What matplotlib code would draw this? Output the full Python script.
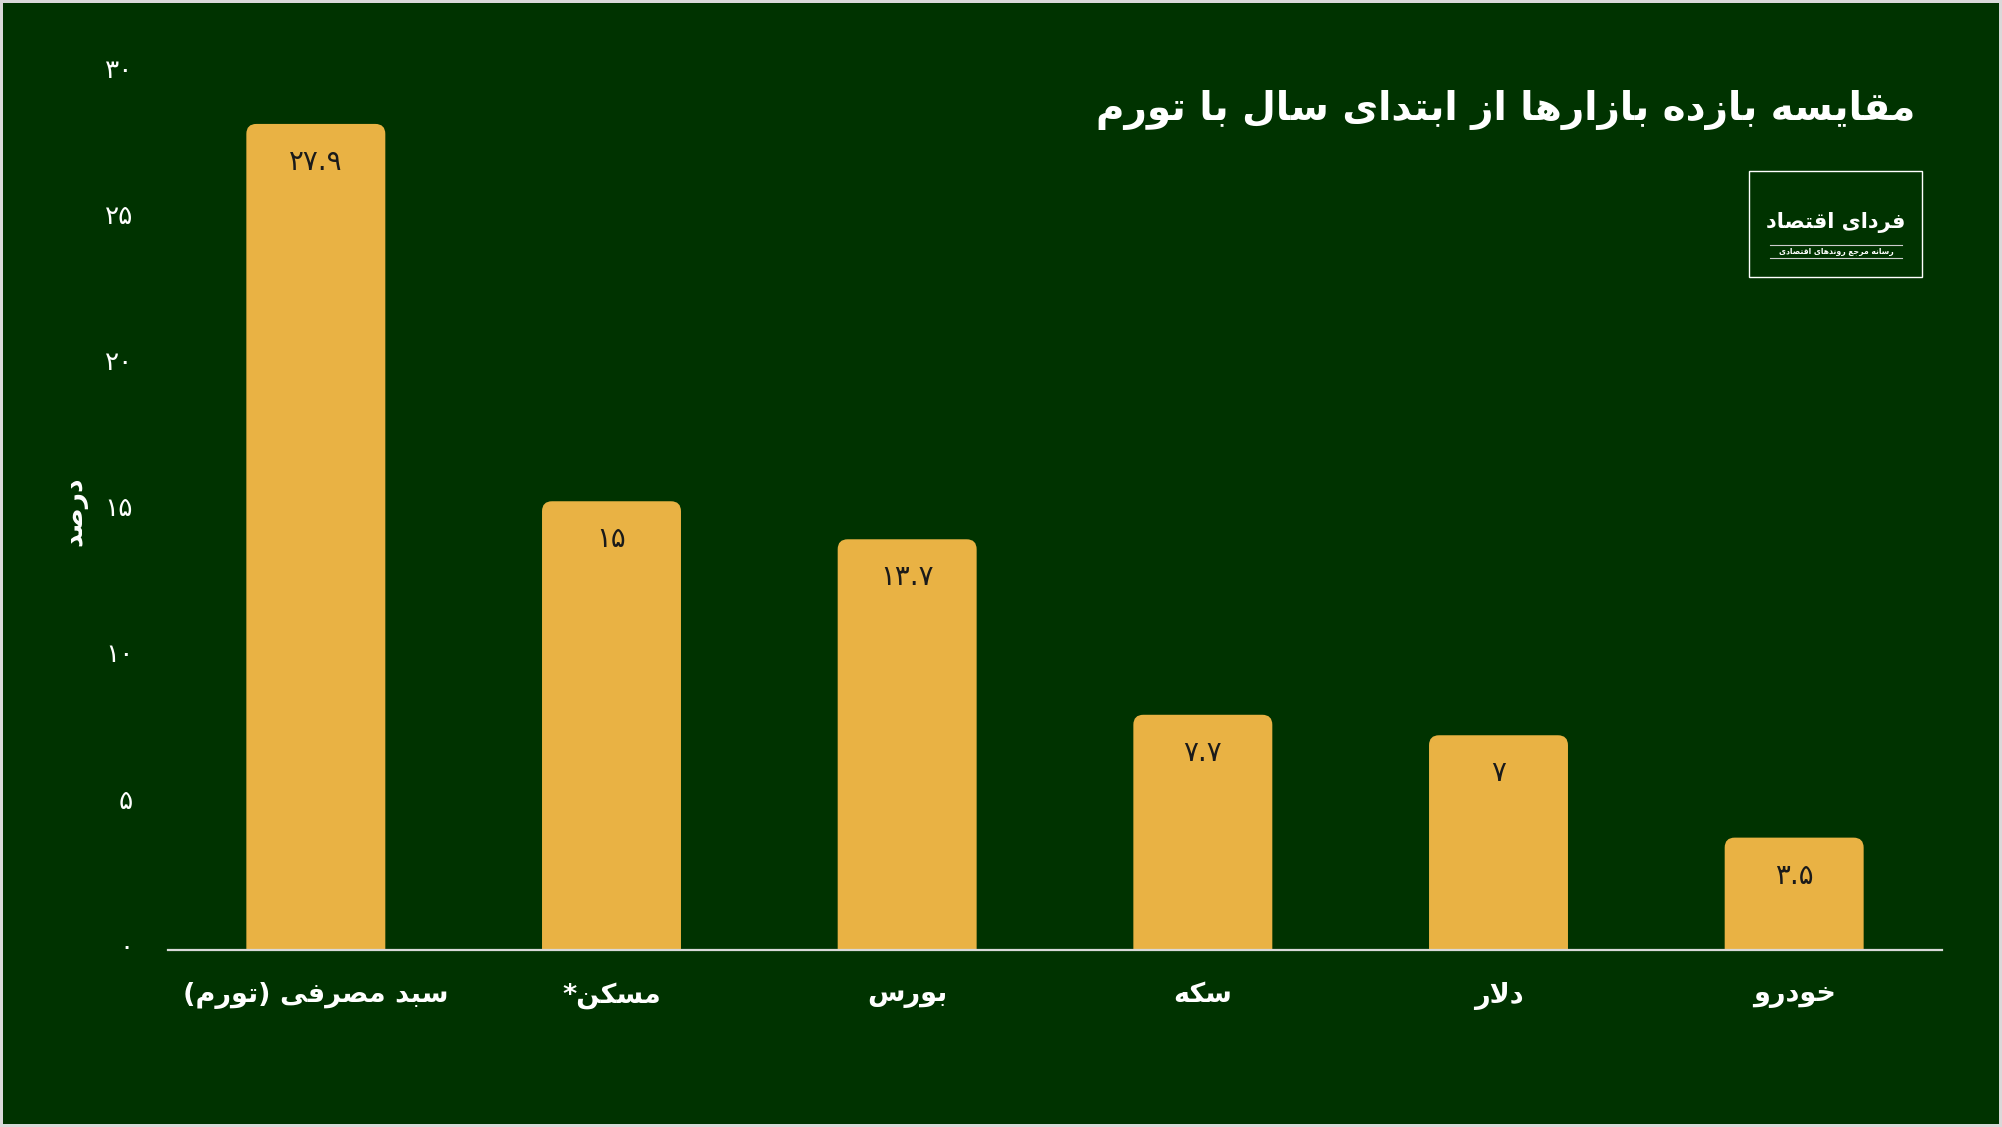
import matplotlib
matplotlib.use("Agg")
import matplotlib.pyplot as plt
from matplotlib.patches import FancyBboxPatch, Rectangle
from matplotlib.transforms import ScaledTranslation

# ---- data ----
title = "مقایسه بازده بازارها از ابتدای سال با تورم"
y_label = "درصد"
categories = ["سبد مصرفی (تورم)", "مسکن*", "بورس", "سکه", "دلار", "خودرو"]
values = [27.9, 15, 13.7, 7.7, 7, 3.5]
y_ticks = [0, 5, 10, 15, 20, 25, 30]
logo_main = "فردای اقتصاد"
logo_sub = "رسانه مرجع روندهای اقتصادی"

BG = "#003300"
BAR = "#E9B244"

# ---- minimal Persian shaping (matplotlib has no complex text layout) ----
FORMS = {
    'ا': ('\uFE8D', '\uFE8E', None, None),
    'ب': ('\uFE8F', '\uFE90', '\uFE91', '\uFE92'),
    'ت': ('\uFE95', '\uFE96', '\uFE97', '\uFE98'),
    'ج': ('\uFE9D', '\uFE9E', '\uFE9F', '\uFEA0'),
    'خ': ('\uFEA5', '\uFEA6', '\uFEA7', '\uFEA8'),
    'د': ('\uFEA9', '\uFEAA', None, None),
    'ر': ('\uFEAD', '\uFEAE', None, None),
    'ز': ('\uFEAF', '\uFEB0', None, None),
    'س': ('\uFEB1', '\uFEB2', '\uFEB3', '\uFEB4'),
    'ص': ('\uFEB9', '\uFEBA', '\uFEBB', '\uFEBC'),
    'ع': ('\uFEC9', '\uFECA', '\uFECB', '\uFECC'),
    'ف': ('\uFED1', '\uFED2', '\uFED3', '\uFED4'),
    'ق': ('\uFED5', '\uFED6', '\uFED7', '\uFED8'),
    'ل': ('\uFEDD', '\uFEDE', '\uFEDF', '\uFEE0'),
    'م': ('\uFEE1', '\uFEE2', '\uFEE3', '\uFEE4'),
    'ن': ('\uFEE5', '\uFEE6', '\uFEE7', '\uFEE8'),
    'ه': ('\uFEE9', '\uFEEA', '\uFEEB', '\uFEEC'),
    'و': ('\uFEED', '\uFEEE', None, None),
    'ک': ('\uFB8E', '\uFB8F', '\uFB90', '\uFB91'),
    'ی': ('\uFBFC', '\uFBFD', '\uFBFE', '\uFBFF'),
}


def dual(c):
    return c in FORMS and FORMS[c][2] is not None


def fa(s):
    out = []
    i = 0
    while i < len(s):
        c = s[i]
        prev = s[i - 1] if i > 0 else ''
        jp = dual(prev) and c in FORMS
        if c == 'ل' and i + 1 < len(s) and s[i + 1] == 'ا':
            out.append('\uFEFC' if jp else '\uFEFB')
            i += 2
            continue
        if c not in FORMS:
            out.append(c)
            i += 1
            continue
        nxt = s[i + 1] if i + 1 < len(s) else ''
        jn = dual(c) and nxt in FORMS
        iso, fin, ini, med = FORMS[c]
        out.append(med if jp and jn else fin if jp else ini if jn else iso)
        i += 1
    mirror = {'(': ')', ')': '('}
    return ''.join(mirror.get(g, g) for g in reversed(out))


FA_DIGITS = str.maketrans("0123456789", "۰۱۲۳۴۵۶۷۸۹")


def fa_num(v):
    return f"{v:g}".translate(FA_DIGITS)


plt.rcParams['font.family'] = ['DejaVu Sans']

fig = plt.figure(figsize=(20.02, 11.27), dpi=100, facecolor=BG,
                 edgecolor="#d9d9d9", linewidth=3)
ax = fig.add_axes([168 / 2002, 1 - 950 / 1127, 1774 / 2002, 877.5 / 1127])
ax.set_facecolor(BG)

x = list(range(len(categories)))
bars = ax.bar(x, values, width=0.47, color=BAR)
ax.set_xlim(-0.5, 5.5)
ax.set_ylim(0, 30)

# swap plain bars for bars with rounded top corners
fig.canvas.draw()
px_x = ax.transData.transform((1, 0))[0] - ax.transData.transform((0, 0))[0]
px_y = ax.transData.transform((0, 1))[1] - ax.transData.transform((0, 0))[1]
aspect = px_x / px_y
r_px = 10
for b in bars:
    bx, bw, bh = b.get_x(), b.get_width(), b.get_height()
    b.set_visible(False)
    top = bh + r_px / px_y
    ax.add_patch(FancyBboxPatch((bx, -2), bw, top + 2,
                                boxstyle=f"round,pad=0,rounding_size={r_px / px_x}",
                                mutation_aspect=aspect, facecolor=BAR,
                                edgecolor="none", zorder=2))
    ax.text(bx + bw / 2, top - 38 / px_y, fa_num(bh), ha="center", va="center",
            fontsize=20, color="#1a1a1a", zorder=3)

for s in ["top", "right", "left"]:
    ax.spines[s].set_visible(False)
ax.spines["bottom"].set_color("#d9d9d9")
ax.spines["bottom"].set_linewidth(1.6)
ax.spines["bottom"].set_zorder(4)

ax.set_yticks(y_ticks)
ax.set_yticklabels([fa_num(t) for t in y_ticks])
ax.set_xticks(x)
ax.set_xticklabels([fa(c) for c in categories], fontweight="bold")
ax.tick_params(axis="y", length=0, pad=25, labelsize=19, labelcolor="white")
ax.tick_params(axis="x", length=0, pad=23, labelsize=19.5, labelcolor="white")
shift = ScaledTranslation(0, 5 / 100, fig.dpi_scale_trans)
for lbl in ax.get_yticklabels():
    lbl.set_transform(lbl.get_transform() + shift)

fig.text(74 / 2002, 1 - 511 / 1127, fa(y_label), rotation=90, ha="center",
         va="center", fontsize=19, fontweight="bold", color="white")

fig.text(1915 / 2002, 1 - 110 / 1127, fa(title), ha="right", va="center",
         fontsize=28, fontweight="bold", color="white")

# logo
fig.add_artist(Rectangle((1749 / 2002, 1 - 277 / 1127), 173 / 2002, 106 / 1127,
                         transform=fig.transFigure, facecolor="none",
                         edgecolor="white", linewidth=1))
fig.text(1836 / 2002, 1 - 222 / 1127, fa(logo_main), ha="center", va="center",
         fontsize=15, fontweight="bold", color="white")
for yy in (245, 258):
    fig.add_artist(plt.Line2D([1770 / 2002, 1902 / 2002], [1 - yy / 1127] * 2,
                              transform=fig.transFigure, color="#cccccc",
                              linewidth=0.8))
fig.text(1836 / 2002, 1 - 251 / 1127, fa(logo_sub), ha="center", va="center",
         fontsize=5.5, fontweight="bold", color="white")

fig.savefig("out.png", dpi=100, facecolor=BG, edgecolor=fig.get_edgecolor())
print("saved")
